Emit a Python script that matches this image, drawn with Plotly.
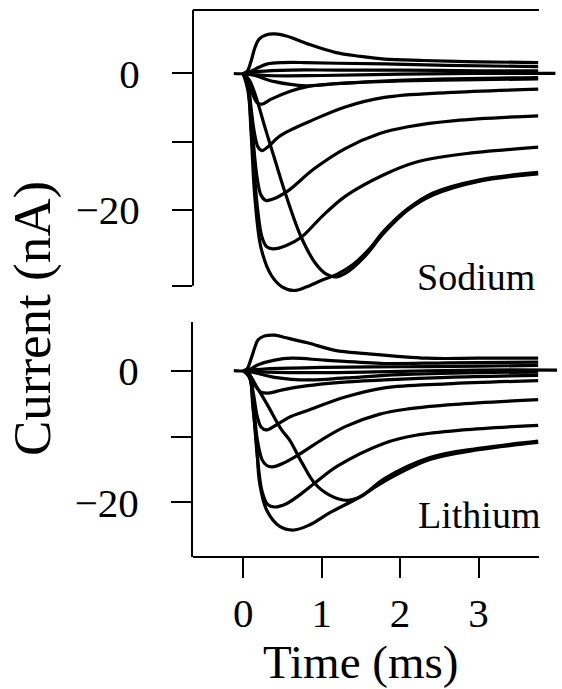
import plotly.graph_objects as go

# ---------------- data (time in ms, current in nA) ----------------
# Sodium panel
NA_O1_T = [-0.12, 0.0, 0.05, 0.1, 0.15, 0.2, 0.28, 0.4, 0.55, 0.83, 1.17, 1.5, 1.8, 2.3, 3.0, 3.76]
NA_O1_I = [0.0, 0.0, 0.3, 1.8, 3.8, 5.0, 5.6, 5.8, 5.5, 4.3, 3.1, 2.5, 2.1, 1.9, 1.7, 1.6]
NA_O2_T = [0.0, 0.08, 0.2, 0.31, 0.5, 0.79, 1.2, 1.8, 2.6, 3.76]
NA_O2_I = [0.0, 0.2, 0.9, 1.4, 1.6, 1.6, 1.5, 1.4, 1.2, 1.0]
NA_Z1_T = [0.0, 0.2, 0.6, 1.2, 2.0, 3.0, 3.76]
NA_Z1_I = [0.0, 0.3, 0.5, 0.5, 0.5, 0.4, 0.4]
NA_Z2_T = [0.0, 0.3, 1.0, 2.0, 3.0, 3.98]
NA_Z2_I = [0.0, -0.3, -0.3, -0.1, 0.0, 0.0]
NA_Z3_T = [0.0, 0.15, 0.4, 0.8, 1.2, 1.8, 2.6, 3.76]
NA_Z3_I = [0.0, -0.3, -1.2, -1.8, -1.5, -1.1, -0.8, -0.6]
NA_A_T = [0.0, 0.06, 0.12, 0.18, 0.24, 0.35, 0.6, 0.83, 1.3, 2.0, 3.0, 3.76]
NA_A_I = [0.0, -0.8, -3.0, -4.3, -4.5, -3.8, -2.6, -1.9, -1.4, -1.1, -0.9, -0.8]
NA_B_T = [0.0, 0.06, 0.1, 0.14, 0.19, 0.24, 0.32, 0.45, 0.6, 0.83, 1.3, 1.8, 2.6, 3.76]
NA_B_I = [0.0, -1.5, -5.0, -8.5, -10.8, -11.3, -10.7, -9.3, -8.3, -7.1, -4.9, -3.5, -2.8, -2.3]
NA_C_T = [0.0, 0.06, 0.12, 0.18, 0.23, 0.29, 0.38, 0.57, 0.9, 1.3, 1.74, 2.1, 2.7, 3.76]
NA_C_I = [0.0, -2.0, -9.0, -15.5, -17.9, -18.6, -18.4, -17.2, -14.0, -11.0, -8.8, -7.8, -6.9, -6.2]
NA_D_T = [0.0, 0.06, 0.12, 0.18, 0.24, 0.3, 0.38, 0.55, 0.74, 1.0, 1.3, 1.8, 2.2, 2.8, 3.76]
NA_D_I = [0.0, -2.5, -11.0, -19.5, -24.0, -25.4, -25.7, -25.2, -24.0, -21.0, -18.0, -14.8, -13.0, -11.8, -10.8]
NA_E_T = [0.0, 0.05, 0.1, 0.15, 0.23, 0.36, 0.5, 0.65, 0.8, 1.0, 1.2, 1.4, 1.6, 1.8, 2.1, 2.42, 3.0, 3.76]
NA_E_I = [0.0, -1.0, -8.6, -18.4, -25.7, -29.6, -31.3, -31.8, -31.3, -30.3, -29.4, -28.0, -25.8, -23.0, -19.8, -17.5, -15.6, -14.5]
NA_F_T = [0.0, 0.08, 0.17, 0.28, 0.4, 0.55, 0.74, 0.92, 1.06, 1.19, 1.34, 1.55, 1.8, 2.1, 2.42, 3.0, 3.76]
NA_F_I = [0.0, -1.0, -3.7, -8.0, -12.5, -18.0, -24.0, -27.8, -29.4, -29.8, -29.0, -26.8, -23.3, -20.0, -17.8, -15.8, -14.7]

# Lithium panel
LI_O1_T = [-0.12, 0.0, 0.05, 0.1, 0.15, 0.19, 0.28, 0.4, 0.55, 0.83, 1.17, 1.57, 2.34, 3.0, 3.76]
LI_O1_I = [0.0, 0.0, 0.3, 1.8, 3.6, 4.7, 5.3, 5.4, 5.0, 4.2, 3.1, 2.6, 1.9, 1.9, 1.9]
LI_O2_T = [0.0, 0.08, 0.19, 0.4, 0.62, 1.04, 1.8, 2.6, 3.76]
LI_O2_I = [0.0, 0.2, 0.9, 1.6, 1.9, 1.6, 1.1, 1.2, 1.3]
LI_Z1_T = [0.0, 0.3, 1.0, 2.0, 3.0, 3.76]
LI_Z1_I = [0.0, 0.3, 0.5, 0.6, 0.7, 0.8]
LI_Z2_T = [0.0, 0.3, 1.0, 2.0, 3.0, 4.0]
LI_Z2_I = [0.0, -0.2, -0.3, -0.1, 0.1, 0.1]
LI_Z3_T = [0.0, 0.15, 0.4, 0.85, 1.3, 2.0, 3.0, 3.76]
LI_Z3_I = [0.0, -0.3, -1.0, -1.4, -1.1, -0.6, -0.3, -0.2]
LI_A_T = [0.0, 0.08, 0.15, 0.22, 0.32, 0.5, 0.8, 1.2, 1.8, 2.6, 3.76]
LI_A_I = [0.0, -0.6, -2.2, -3.2, -3.4, -2.9, -2.3, -1.8, -1.4, -1.0, -0.7]
LI_B_T = [0.0, 0.08, 0.13, 0.18, 0.23, 0.29, 0.4, 0.6, 0.83, 1.3, 1.8, 2.6, 3.76]
LI_B_I = [0.0, -0.8, -3.5, -7.0, -8.6, -9.0, -8.4, -7.0, -6.0, -4.0, -2.6, -2.0, -1.5]
LI_C_T = [0.0, 0.08, 0.13, 0.18, 0.24, 0.3, 0.37, 0.5, 0.7, 1.0, 1.3, 1.74, 2.1, 2.7, 3.76]
LI_C_I = [0.0, -1.0, -5.0, -10.5, -13.5, -14.4, -14.6, -14.1, -12.8, -10.5, -8.5, -6.6, -5.8, -5.1, -4.4]
LI_D_T = [0.0, 0.08, 0.13, 0.18, 0.24, 0.31, 0.4, 0.55, 0.75, 0.91, 1.2, 1.8, 2.2, 2.8, 3.76]
LI_D_I = [0.0, -1.0, -6.0, -13.0, -18.3, -20.3, -20.7, -20.2, -18.6, -17.1, -14.5, -11.0, -9.8, -9.0, -8.3]
LI_E_T = [0.0, 0.08, 0.12, 0.17, 0.21, 0.3, 0.47, 0.65, 0.85, 1.1, 1.47, 1.8, 2.38, 3.0, 3.76]
LI_E_I = [0.0, -0.5, -5.0, -11.0, -17.1, -21.2, -23.7, -24.2, -23.4, -21.6, -19.3, -16.8, -13.5, -12.0, -10.9]
LI_F_T = [0.0, 0.1, 0.17, 0.3, 0.49, 0.59, 0.75, 0.91, 1.1, 1.32, 1.5, 1.8, 2.38, 3.0, 3.76]
LI_F_I = [0.0, -1.0, -2.4, -5.0, -9.0, -10.5, -14.0, -17.1, -18.9, -19.7, -19.1, -16.4, -13.2, -11.8, -10.7]

SODIUM = [(NA_O1_T, NA_O1_I), (NA_O2_T, NA_O2_I), (NA_Z1_T, NA_Z1_I), (NA_Z2_T, NA_Z2_I),
          (NA_Z3_T, NA_Z3_I), (NA_A_T, NA_A_I), (NA_B_T, NA_B_I), (NA_C_T, NA_C_I),
          (NA_D_T, NA_D_I), (NA_E_T, NA_E_I), (NA_F_T, NA_F_I)]
LITHIUM = [(LI_O1_T, LI_O1_I), (LI_O2_T, LI_O2_I), (LI_Z1_T, LI_Z1_I), (LI_Z2_T, LI_Z2_I),
           (LI_Z3_T, LI_Z3_I), (LI_A_T, LI_A_I), (LI_B_T, LI_B_I), (LI_C_T, LI_C_I),
           (LI_D_T, LI_D_I), (LI_E_T, LI_E_I), (LI_F_T, LI_F_I)]

X_TICKS = [0, 1, 2, 3]
NA_Y_TICKS = [0, -10, -20, -31.1]
NA_Y_TEXT = ["0", "", "\u221220", ""]
LI_Y_TICKS = [0, -10, -20]
LI_Y_TEXT = ["0", "", "\u221220"]

X_RANGE = [-0.64, 4.0]
X_AXIS_END = 3.77
NA_RANGE = [-33.0, 9.3]
NA_AXIS_BOTTOM = -31.1
LI_RANGE = [-28.3, 7.4]

FONT = "Liberation Serif"
LINE = dict(color="black", width=3.2, shape="spline", smoothing=1.0)

fig = go.Figure()
for t, i in SODIUM:
    fig.add_trace(go.Scatter(x=t, y=i, mode="lines", line=LINE, xaxis="x", yaxis="y",
                             showlegend=False, hoverinfo="skip"))
for t, i in LITHIUM:
    fig.add_trace(go.Scatter(x=t, y=i, mode="lines", line=LINE, xaxis="x2", yaxis="y2",
                             showlegend=False, hoverinfo="skip"))

tickfont = dict(family=FONT, size=41, color="black")
common_y = dict(ticks="outside", ticklen=20, tickwidth=2, tickcolor="black",
                showgrid=False, zeroline=False, tickfont=tickfont, ticklabelstandoff=24)

fig.update_layout(
    width=562, height=689,
    margin=dict(l=193, r=5, t=10, b=132),
    paper_bgcolor="white", plot_bgcolor="white",
    font=dict(family=FONT, color="black"),
    xaxis=dict(domain=[0, 1], range=X_RANGE, anchor="y", matches="x2",
               showticklabels=False, ticks="", showline=False, showgrid=False, zeroline=False),
    yaxis=dict(domain=[0.4722, 1], range=NA_RANGE, anchor="x", tickvals=NA_Y_TICKS,
               ticktext=NA_Y_TEXT, showline=False, **common_y),
    xaxis2=dict(domain=[0, 1], range=X_RANGE, anchor="y2", tickvals=X_TICKS,
                ticks="outside", ticklen=20, tickwidth=2, tickcolor="black",
                showline=False, showgrid=False, zeroline=False, tickfont=tickfont,
                ticklabelstandoff=0),
    yaxis2=dict(domain=[0, 0.4296], range=LI_RANGE, anchor="x2", tickvals=LI_Y_TICKS,
                ticktext=LI_Y_TEXT, showline=True, linecolor="black", linewidth=2, **common_y),
)

ax = dict(color="black", width=2)
fig.add_shape(type="line", xref="paper", yref="y", x0=0, x1=0, y0=NA_AXIS_BOTTOM, y1=NA_RANGE[1], line=ax)
fig.add_shape(type="line", xref="x", yref="paper", x0=X_RANGE[0], x1=X_AXIS_END, y0=1, y1=1, line=ax)
fig.add_shape(type="line", xref="x2", yref="paper", x0=X_RANGE[0], x1=X_AXIS_END, y0=0, y1=0, line=ax)

fig.add_annotation(text="Current (nA)", xref="paper", yref="paper", x=-0.442, y=0.4351,
                   textangle=-90, showarrow=False, xanchor="center", yanchor="middle",
                   font=dict(family=FONT, size=53, color="black"))
fig.add_annotation(text="Time (ms)", xref="paper", yref="paper", x=0.4615, y=-0.192,
                   showarrow=False, xanchor="center", yanchor="middle",
                   font=dict(family=FONT, size=47, color="black"))
fig.add_annotation(text="Sodium", xref="paper", yref="paper", x=0.945, y=0.5119,
                   showarrow=False, xanchor="right", yanchor="middle",
                   font=dict(family=FONT, size=38, color="black"))
fig.add_annotation(text="Lithium", xref="paper", yref="paper", x=0.959, y=0.0768,
                   showarrow=False, xanchor="right", yanchor="middle",
                   font=dict(family=FONT, size=38, color="black"))

fig.write_html("out.html")
